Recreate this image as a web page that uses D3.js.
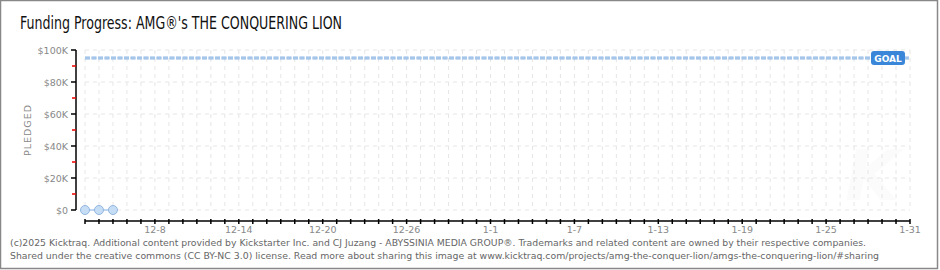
<!DOCTYPE html>
<head>
  <meta charset="utf-8">
  <title>Funding Progress</title>
  <script src="https://d3js.org/d3.v7.min.js"></script>
  <style>
    body { margin: 0; background: #fff; }
    svg { display: block; }
    .tick-lbl { font-family: "DejaVu Sans", sans-serif; font-size: 9.5px; fill: #888; }
    .foot { font-family: "DejaVu Sans", sans-serif; font-size: 9.5px; fill: #666; }
  </style>
</head>
<body>
  <div id="chart"></div>
  <script>
    var width = 940,
      height = 270;

    // data
    var dates = ["2024-12-03", "2024-12-04", "2024-12-05"];
    var pledged = [0, 0, 0];
    var goal = 95000;
    var yTicks = [0, 20000, 40000, 60000, 80000, 100000];
    var yMinor = [10000, 30000, 50000, 70000, 90000];
    var xTickLabels = ["12-8", "12-14", "12-20", "12-26", "1-1", "1-7", "1-13", "1-19", "1-25", "1-31"];
    var xStart = "2024-12-03", xEnd = "2025-01-31";
    var titleText = "Funding Progress: AMG\u00AE's THE CONQUERING LION";
    var footer = [
      "(c)2025 Kicktraq. Additional content provided by Kickstarter Inc. and CJ Juzang - ABYSSINIA MEDIA GROUP\u00AE. Trademarks and related content are owned by their respective companies.",
      "Shared under the creative commons (CC BY-NC 3.0) license. Read more about sharing this image at www.kicktraq.com/projects/amg-the-conquer-lion/amgs-the-conquering-lion/#sharing"
    ];

    var parse = d3.timeParse("%Y-%m-%d");

    var svg = d3.select("#chart").append("svg")
      .attr("width", width)
      .attr("height", height);

    // frame
    svg.append("rect")
      .attr("x", 0.5).attr("y", 0.5)
      .attr("width", width - 3).attr("height", height - 2)
      .attr("fill", "#fff")
      .attr("stroke", "#888")
      .attr("stroke-width", 1.5);

    var x = d3.scaleTime()
      .domain([parse(xStart), parse(xEnd)])
      .range([85, 910]);
    var y = d3.scaleLinear()
      .domain([0, 100000])
      .range([210, 50]);

    var days = d3.timeDay.range(parse(xStart), d3.timeDay.offset(parse(xEnd), 1));

    // watermark
    svg.append("text")
      .attr("x", 872).attr("y", 200)
      .attr("text-anchor", "middle")
      .attr("font-family", "DejaVu Sans")
      .attr("font-weight", "bold")
      .attr("font-style", "italic")
      .attr("font-size", 70)
      .attr("fill", "#fbfbfb")
      .text("K");

    // grid
    var grid = svg.append("g");
    grid.selectAll("line.v")
      .data(days)
      .enter().append("line")
      .attr("x1", d => x(d)).attr("x2", d => x(d))
      .attr("y1", y(100000)).attr("y2", y(0))
      .attr("stroke", "#e6e6e6")
      .attr("stroke-dasharray", "4,4");
    grid.selectAll("line.h")
      .data(yTicks)
      .enter().append("line")
      .attr("x1", 85).attr("x2", 910)
      .attr("y1", d => y(d)).attr("y2", d => y(d))
      .attr("stroke", "#e6e6e6")
      .attr("stroke-dasharray", "4,4");

    // y axis
    var yAxis = svg.append("g").attr("transform", "translate(76,0)");
    yAxis.append("line")
      .attr("y1", y(100000)).attr("y2", y(0))
      .attr("stroke", "#000").attr("stroke-width", 1.5);
    yAxis.selectAll("line.maj")
      .data(yTicks)
      .enter().append("line")
      .attr("x1", -5).attr("x2", 0)
      .attr("y1", d => y(d)).attr("y2", d => y(d))
      .attr("stroke", "#000").attr("stroke-width", 1.5);
    yAxis.selectAll("line.min")
      .data(yMinor)
      .enter().append("line")
      .attr("x1", -4).attr("x2", 0)
      .attr("y1", d => y(d)).attr("y2", d => y(d))
      .attr("stroke", "#e00").attr("stroke-width", 1.5);
    yAxis.selectAll("text")
      .data(yTicks)
      .enter().append("text")
      .attr("class", "tick-lbl")
      .attr("x", -8)
      .attr("y", d => y(d) + 3.5)
      .attr("text-anchor", "end")
      .text(d => d === 0 ? "$0" : "$" + d / 1000 + "K");

    svg.append("text")
      .attr("class", "tick-lbl")
      .attr("transform", "translate(31,130) rotate(-90)")
      .attr("text-anchor", "middle")
      .attr("font-size", 8.5)
      .attr("letter-spacing", 1)
      .text("PLEDGED");

    // x axis
    var xAxis = svg.append("g").attr("transform", "translate(0,221)");
    xAxis.append("line")
      .attr("x1", x(parse(xStart))).attr("x2", x(parse(xEnd)))
      .attr("stroke", "#000").attr("stroke-width", 1.5);
    xAxis.selectAll("line.t")
      .data(days)
      .enter().append("line")
      .attr("x1", d => x(d)).attr("x2", d => x(d))
      .attr("y1", -2).attr("y2", 3)
      .attr("stroke", "#000").attr("stroke-width", 1.5);
    var fmt = d3.timeFormat("%-m-%-d");
    xAxis.selectAll("text")
      .data(days.filter(d => xTickLabels.indexOf(fmt(d)) >= 0))
      .enter().append("text")
      .attr("class", "tick-lbl")
      .attr("x", d => x(d))
      .attr("y", 12)
      .attr("text-anchor", "middle")
      .text(d => fmt(d));

    // goal
    svg.append("line")
      .attr("x1", 85).attr("x2", 910)
      .attr("y1", y(goal)).attr("y2", y(goal))
      .attr("stroke", "#8db6e3")
      .attr("stroke-width", 3)
      .attr("stroke-dasharray", "5,1.5");
    svg.append("line")
      .attr("x1", 85).attr("x2", 910)
      .attr("y1", y(goal)).attr("y2", y(goal))
      .attr("stroke", "#bcd5f0")
      .attr("stroke-width", 1)
      .attr("stroke-dasharray", "5,1.5");
    svg.append("rect")
      .attr("x", 871).attr("y", y(goal) - 7)
      .attr("width", 34).attr("height", 14)
      .attr("rx", 3)
      .attr("fill", "#3a87d9");
    svg.append("text")
      .attr("x", 888).attr("y", y(goal) + 3.5)
      .attr("text-anchor", "middle")
      .attr("font-family", "DejaVu Sans")
      .attr("font-size", 9)
      .attr("font-weight", "bold")
      .attr("fill", "#fff")
      .text("GOAL");

    // pledged series
    var pts = dates.map((d, i) => ({ date: parse(d), value: pledged[i] }));
    svg.append("path")
      .datum(pts)
      .attr("fill", "none")
      .attr("stroke", "#a9c8ec")
      .attr("stroke-width", 1.5)
      .attr("d", d3.line().x(d => x(d.date)).y(d => y(d.value)));
    svg.selectAll("circle.p")
      .data(pts)
      .enter().append("circle")
      .attr("cx", d => x(d.date))
      .attr("cy", d => y(d.value))
      .attr("r", 4.5)
      .attr("fill", "#c6ddf6")
      .attr("stroke", "#93b6df")
      .attr("stroke-width", 1);

    // title
    svg.append("text")
      .attr("x", 20).attr("y", 29)
      .attr("font-family", "Liberation Sans Narrow, DejaVu Sans Condensed, sans-serif")
      .attr("font-size", 17)
      .attr("fill", "#111")
      .attr("textLength", 322)
      .attr("lengthAdjust", "spacingAndGlyphs")
      .text(titleText);

    // footer
    svg.selectAll("text.foot")
      .data(footer)
      .enter().append("text")
      .attr("class", "foot")
      .attr("x", 10)
      .attr("y", (d, i) => 246 + i * 13)
      .attr("textLength", (d, i) => i === 0 ? 856 : 869)
      .attr("lengthAdjust", "spacingAndGlyphs")
      .text(d => d);
  </script>
</body>
</html>
